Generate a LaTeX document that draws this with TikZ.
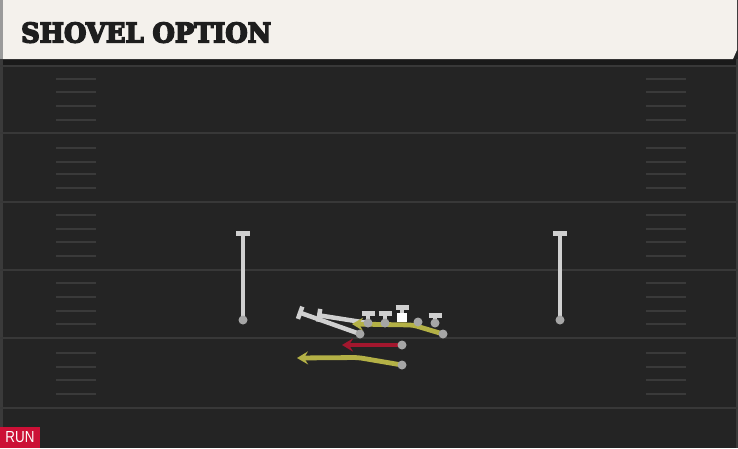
\documentclass[tikz,border=0pt]{standalone}
\usepackage{fontspec}
\usepackage{graphicx}
\usetikzlibrary{arrows.meta}
\newfontfamily\headfont{DejaVu Serif}[FakeBold=6]
\newfontfamily\tagfont{Liberation Sans}
\definecolor{fieldbg}{HTML}{242424}
\definecolor{shadowc}{HTML}{1A1A1A}
\definecolor{edgec}{HTML}{3A3A3A}
\definecolor{yardc}{HTML}{383838}
\definecolor{hashc}{HTML}{3A3A3A}
\definecolor{headbg}{HTML}{F4F1EC}
\definecolor{headstrip}{HTML}{9A9A9A}
\definecolor{headtxt}{HTML}{1E1E1E}
\definecolor{runred}{HTML}{CC1036}
\definecolor{routeyel}{HTML}{B4B146}
\definecolor{routered}{HTML}{A3172E}
\definecolor{blockgray}{HTML}{D0D0D0}
\definecolor{dotgray}{HTML}{A6A6A6}
\tikzset{
  yardline/.style={draw=yardc, line width=2pt},
  hashmark/.style={draw=hashc, line width=1.6pt},
  player/.style={circle, fill=dotgray, inner sep=0pt, minimum size=9pt},
  center/.style={rectangle, fill=white, inner sep=0pt, minimum size=9.5pt},
  blockline/.style={draw=blockgray, line width=4.5pt, -{Bar[width=13pt]}},
  wideblock/.style={blockline, -{Bar[width=14pt]}},
  yelroute/.style={draw=routeyel, line width=4.8pt, rounded corners=4pt, -{Stealth[length=11pt,width=13pt,inset=4pt]}},
  redroute/.style={draw=routered, line width=4.8pt, -{Stealth[length=11pt,width=13pt,inset=4pt]}}
}
\begin{document}
\begin{tikzpicture}[x=1pt,y=-1pt]
\useasboundingbox (0,0) rectangle (738,448);
% field
\fill[fieldbg] (0,0) rectangle (738,448);
\fill[shadowc] (0,59) rectangle (738,65);
\fill[edgec] (0,59) rectangle (2.5,448);
\fill[edgec] (736,59) rectangle (738,448);
\foreach \y in {66,133,202,270,338,408} \draw[yardline] (0,\y) -- (738,\y);
\foreach \y in {79,92,106,120,148,162,174,188,215,229,242,256,283,297,311,324,353,367,380,394}{
  \draw[hashmark] (56,\y) -- (96,\y);
  \draw[hashmark] (646,\y) -- (686,\y);
}
% header
\fill[headbg] (3,0) -- (737,0) -- (737,50) -- (733,59) -- (3,59) -- cycle;
\fill[headstrip] (0,0) rectangle (3,59);
\node[anchor=south west, inner sep=0pt, text=headtxt] (title) at (21,43)
  {\resizebox{250pt}{20pt}{\headfont\bfseries SHOVEL OPTION}};
% run tag
\node[fill=runred, minimum width=40pt, minimum height=21pt, inner sep=0pt, text=white] (runtag) at (20,437.5)
  {\resizebox{29pt}{11pt}{\tagfont RUN}};
% player positions
\coordinate (lwr) at (243,320);  \coordinate (lwrT) at (243,231);
\coordinate (rwr) at (560,320);  \coordinate (rwrT) at (560,231);
\coordinate (lg)  at (368,323);  \coordinate (lgT)  at (368,311);
\coordinate (lgP) at (317,315);
\coordinate (rg)  at (385,323);  \coordinate (rgT)  at (385,311);
\coordinate (ctr) at (402,317.5); \coordinate (ctrT) at (402,305);
\coordinate (lt)  at (418,322);
\coordinate (rt)  at (435,323);  \coordinate (rtT)  at (435,313);
\coordinate (hb)  at (360,334);  \coordinate (hbT)  at (298,312);
\coordinate (te)  at (443,334);  \coordinate (teB)  at (413,325); \coordinate (teA) at (352,324);
\coordinate (qb)  at (402,345);  \coordinate (qbA)  at (342,345);
\coordinate (rb)  at (402,365);  \coordinate (rbB)  at (358,357.5); \coordinate (rbA) at (297,358);
% blocks
\draw[wideblock] (lwr) -- (lwrT);
\draw[wideblock] (rwr) -- (rwrT);
\draw[blockline] (hb) -- (hbT);
\draw[blockline] (lg) -- (lgP);
\draw[blockline] (lg) -- (lgT);
\draw[blockline] (rg) -- (rgT);
\draw[blockline] (ctr) -- (ctrT);
\draw[blockline] (rt) -- (rtT);
% routes
\draw[yelroute] (te) -- (teB) -- (teA);
\draw[redroute] (qb) -- (qbA);
\draw[yelroute] (rb) -- (rbB) -- (rbA);
% players on top
\node[player] (plwr) at (lwr) {};
\node[player] (prwr) at (rwr) {};
\node[player] (plg) at (lg) {};
\node[player] (prg) at (rg) {};
\node[center] (pctr) at (ctr) {};
\node[player] (plt) at (lt) {};
\node[player] (prt) at (rt) {};
\node[player] (phb) at (hb) {};
\node[player] (pte) at (te) {};
\node[player] (pqb) at (qb) {};
\node[player] (prb) at (rb) {};
\end{tikzpicture}
\end{document}
